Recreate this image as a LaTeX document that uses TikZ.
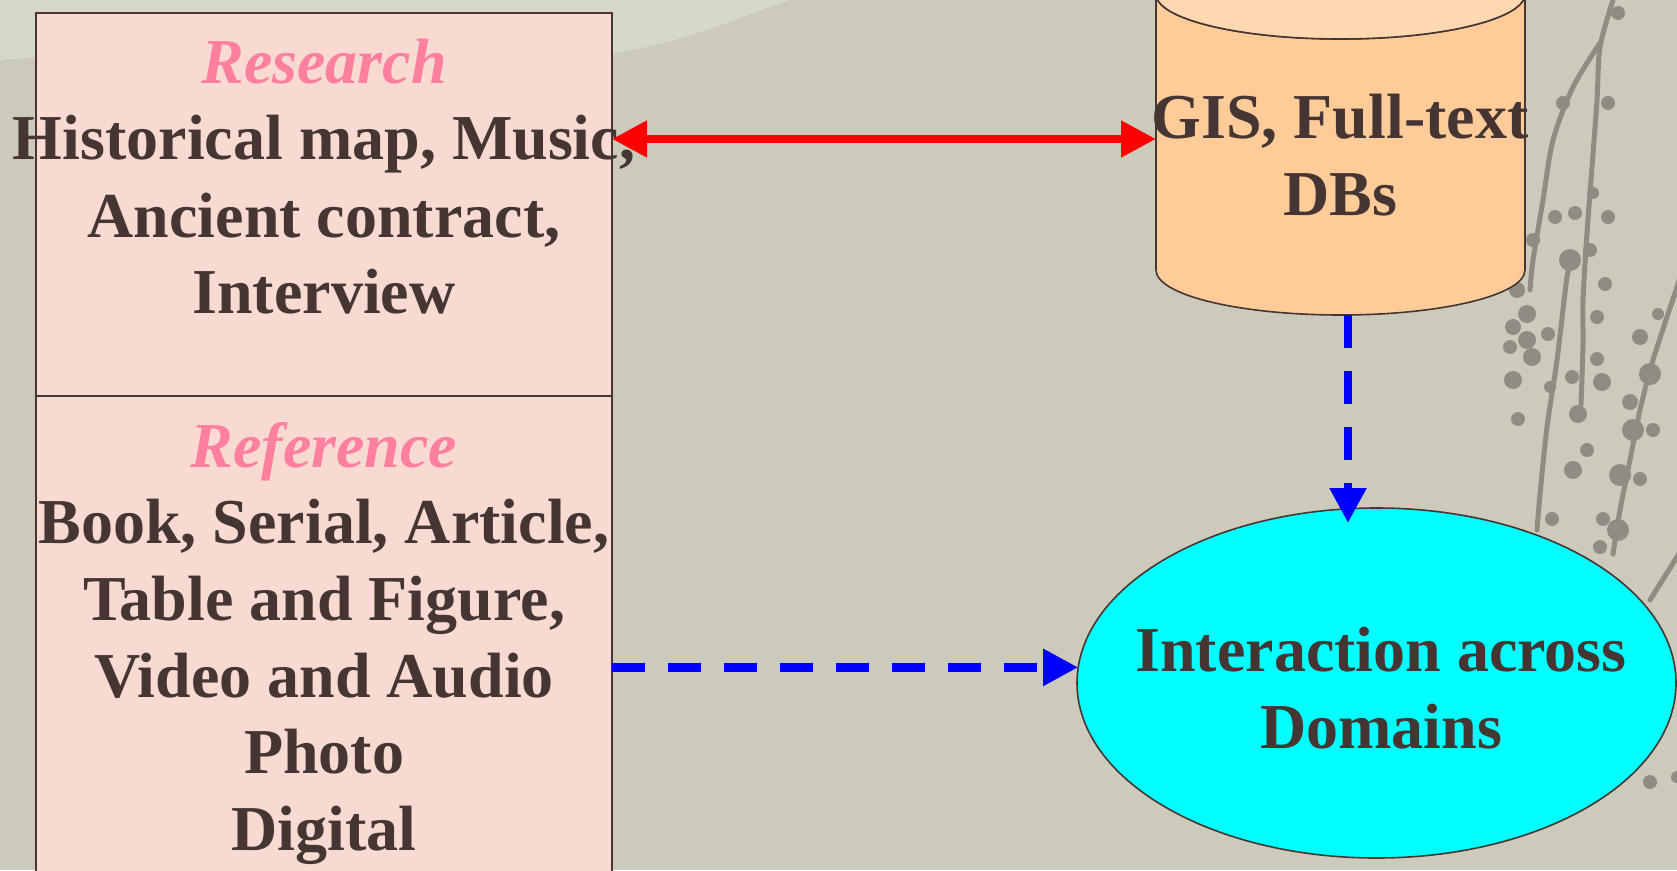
\documentclass[tikz,border=0pt]{standalone}
\usepackage{fontspec}
\setmainfont{Liberation Serif}
\usetikzlibrary{arrows.meta,shapes.geometric}
\definecolor{bgpaper}{RGB}{204,202,186}
\definecolor{bglight}{RGB}{215,216,202}
\definecolor{stemgray}{RGB}{143,141,131}
\definecolor{inkbrown}{RGB}{69,54,51}
\definecolor{boxpink}{RGB}{249,218,211}
\definecolor{headpink}{RGB}{255,128,158}
\definecolor{dbbody}{RGB}{255,204,153}
\definecolor{dbtop}{RGB}{254,216,176}
\definecolor{aqua}{RGB}{0,255,255}
\begin{document}
\begin{tikzpicture}[x=1pt,y=1pt,
  every node/.style={inner sep=0pt, outer sep=0pt},
  body/.style={font=\fontsize{64}{77}\selectfont\bfseries, text=inkbrown, anchor=base},
  head/.style={font=\fontsize{64}{77}\selectfont\bfseries\itshape, text=headpink, anchor=base},
  panel/.style={rectangle, draw=inkbrown, line width=1.6pt, fill=boxpink, minimum width=576pt},
  flowdash/.style={blue, line width=8.5pt, dash pattern=on 33pt off 23pt,
    -{Triangle[length=35pt,width=35pt]}},
  link/.style={red, line width=8pt,
    {Triangle[length=35pt,width=35pt]}-{Triangle[length=35pt,width=35pt]}},
  twig/.style={stemgray, line width=5pt, line cap=round},
  berry/.style={fill=stemgray}
]
\useasboundingbox (0,0) rectangle (1677,-870);
\clip (0,0) rectangle (1677,-870);

% paper background
\fill[bgpaper] (0,0) rectangle (1677,-870);
\fill[bglight] (0,0) -- (790,0) .. controls (730,-20) and (680,-45) .. (600,-55)
  .. controls (450,-50) and (200,-45) .. (0,-60) -- cycle;

% branches with berries
\draw[twig] plot[smooth] coordinates {(1613,0) (1600,-47) (1597,-100) (1592,-167) (1587,-233) (1583,-300) (1583,-344) (1581,-404)};
\draw[twig] plot[smooth] coordinates {(1600,-43) (1573,-87) (1553,-140) (1543,-200) (1533,-260) (1530,-290)};
\draw[twig] plot[smooth] coordinates {(1572,-262) (1567,-277) (1557,-360) (1547,-427) (1540,-494) (1537,-530)};
\draw[twig] plot[smooth] coordinates {(1684,-265) (1677,-287) (1653,-360) (1640,-410) (1630,-460) (1620,-510) (1613,-554)};
\draw[twig] (1650,-600) -- (1680,-552);
\foreach \bx/\by/\br in {1618/13/7, 1563/103/7, 1608/103/7, 1593/193/6, 1555/217/7,
  1575/213/7, 1608/217/7, 1533/240/7, 1570/260/11, 1590/250/7,
  1517/290/8, 1527/314/9, 1513/327/8, 1527/340/9, 1510/347/7, 1532/357/9,
  1513/380/9, 1518/419/7, 1605/284/7, 1597/317/7, 1548/334/7, 1597/359/7,
  1572/377/7, 1602/382/9, 1550/387/6, 1578/414/9, 1640/337/8, 1658/314/6,
  1650/374/11, 1630/402/8, 1633/430/11, 1653/430/7, 1587/450/7, 1573/470/9,
  1620/475/11, 1640/479/7, 1552/519/7, 1603/519/7, 1618/530/11, 1600/547/7,
  1650/782/7, 1677/777/6}
  \fill[berry] (\bx,-\by) circle[radius=\br];

% database cylinder
\filldraw[fill=dbbody, draw=inkbrown, line width=1.6pt]
  (1156,6) -- (1156,-270) arc[start angle=180, end angle=360, x radius=184.5, y radius=45]
  -- (1525,6) arc[start angle=0, end angle=-180, x radius=184.5, y radius=45] -- cycle;
\filldraw[fill=dbtop, draw=inkbrown, line width=1.6pt]
  (1340.5,6) ellipse[x radius=184.5, y radius=45];
\coordinate (dbL) at (1156,-139);
\coordinate (dbB) at (1348,-315);

% the two panels on the left
\node[panel, minimum height=383pt] (resbox) at (324,-204.5) {};
\node[panel, minimum height=520pt] (refbox) at (324,-656) {};

% target ellipse
\node[ellipse, draw=inkbrown, line width=1.6pt, fill=aqua,
  minimum width=599pt, minimum height=350pt] (inter) at (1376.5,-683) {};

% texts
\node[head] (resh) at (324,-83) {Research};
\node[body] (res1) at (324,-159) {Historical map, Music,};
\node[body] (res2) at (324,-237) {Ancient contract,};
\node[body] (res3) at (324,-313) {Interview};
\node[head] (refh) at (324,-467) {Reference};
\node[body] (ref1) at (324,-543) {Book, Serial, Article,};
\node[body] (ref2) at (324,-620) {Table and Figure,};
\node[body] (ref3) at (324,-697) {Video and Audio};
\node[body] (ref4) at (324,-773) {Photo};
\node[body] (ref5) at (324,-850) {Digital};
\node[body] (db1) at (1340,-138) {GIS, Full-text};
\node[body] (db2) at (1340,-215) {DBs};
\node[body] (int1) at (1381,-671) {Interaction across};
\node[body] (int2) at (1381,-748) {Domains};

% connectors
\draw[link] (resbox.east |- dbL) -- (dbL);
\draw[flowdash, shorten >=-15pt] (dbB) -- (dbB |- inter.north);
\draw[flowdash] (refbox.east |- inter.177.13) -- (inter.177.13);
\end{tikzpicture}
\end{document}
